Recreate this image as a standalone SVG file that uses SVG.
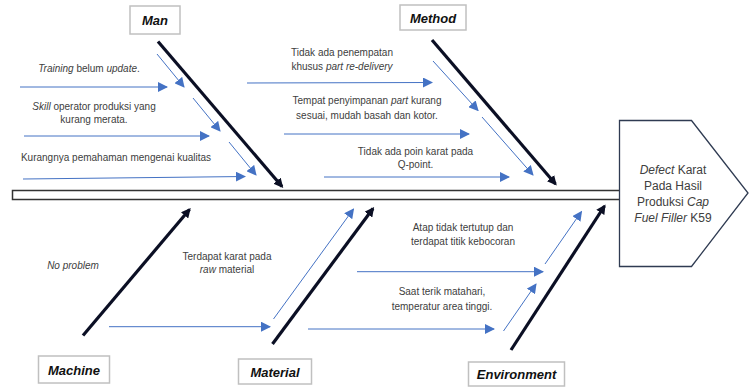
<svg xmlns="http://www.w3.org/2000/svg" width="749" height="387" viewBox="0 0 749 387">
<defs>
<style>
.box{fill:#fff;stroke:#c0c0c0;stroke-width:1.5}
.cat{font-family:"Liberation Sans",Arial,sans-serif;font-size:13px;font-weight:bold;font-style:italic;fill:#111;text-anchor:middle}
.t{font-family:"Liberation Sans",Arial,sans-serif;font-size:10px;fill:#404040;text-anchor:middle}
.h{font-size:12px}
.i{font-style:italic}
.bone{stroke:#0b0f24;stroke-width:3.2;fill:none;marker-end:url(#ab)}
.sub{stroke:#4472c4;stroke-width:1;fill:none;marker-end:url(#au)}
</style>
<marker id="au" viewBox="0 0 10 10" refX="9" refY="5" markerWidth="10" markerHeight="10" markerUnits="userSpaceOnUse" orient="auto">
<path d="M0,0 L10,5 L0,10 Z" fill="#4472c4"/>
</marker>
<marker id="ab" viewBox="0 0 10 10" refX="8" refY="5" markerWidth="3" markerHeight="3" orient="auto">
<path d="M0,0 L10,5 L0,10 Z" fill="#0b0f24"/>
</marker>
</defs>
<rect width="749" height="387" fill="#fff"/>

<g id="spine">
<rect x="12.5" y="190.5" width="608" height="9" fill="#fff" stroke="#333" stroke-width="1.5"/>
</g>

<g id="head">
<path d="M619.5,120.5 L691.5,120.5 L748,193 L691.5,266.5 L619.5,266.5 Z" fill="#fff" stroke="#2f3b52" stroke-width="1.3"/>
<text class="t h" x="673" y="174"><tspan class="i">Defect</tspan> Karat</text>
<text class="t h" x="673" y="190">Pada Hasil</text>
<text class="t h" x="673" y="206">Produksi <tspan class="i">Cap</tspan></text>
<text class="t h" x="673" y="222"><tspan class="i">Fuel Filler</tspan> K59</text>
</g>

<g id="man">
<rect class="box" x="130" y="6" width="50" height="28"/>
<text class="cat" x="155" y="25">Man</text>
</g>
<g id="method">
<rect class="box" x="400" y="5" width="66" height="25"/>
<text class="cat" x="433" y="22.5">Method</text>
</g>
<g id="machine">
<rect class="box" x="38.5" y="356" width="71" height="27"/>
<text class="cat" x="74" y="374.5">Machine</text>
</g>
<g id="material">
<rect class="box" x="238.5" y="359" width="73" height="25"/>
<text class="cat" x="275" y="376.5">Material</text>
</g>
<g id="environment">
<rect class="box" x="468.5" y="362" width="96" height="24"/>
<text class="cat" x="516.5" y="378.5">Environment</text>
</g>

<g id="cause-man-1"><text class="t" x="89" y="72"><tspan class="i">Training</tspan> belum <tspan class="i">update</tspan>.</text></g>
<g id="cause-man-2">
<text class="t" x="94" y="109.5"><tspan class="i">Skill</tspan> operator produksi yang</text>
<text class="t" x="94" y="123">kurang merata.</text>
</g>
<g id="cause-man-3"><text class="t" x="116" y="160.5">Kurangnya pemahaman mengenai kualitas</text></g>

<g id="cause-method-1">
<text class="t" x="342" y="56">Tidak ada penempatan</text>
<text class="t" x="342" y="70">khusus <tspan class="i">part re-delivery</tspan></text>
</g>
<g id="cause-method-2">
<text class="t" x="367" y="103.5">Tempat penyimpanan <tspan class="i">part</tspan> kurang</text>
<text class="t" x="367" y="118.5">sesuai, mudah basah dan kotor.</text>
</g>
<g id="cause-method-3">
<text class="t" x="415.5" y="154.5">Tidak ada poin karat pada</text>
<text class="t" x="415.5" y="167.5">Q-point.</text>
</g>

<g id="cause-machine-1"><text class="t i" x="73" y="268.5">No problem</text></g>
<g id="cause-material-1">
<text class="t" x="227" y="259.5">Terdapat karat pada</text>
<text class="t" x="227" y="272.5"><tspan class="i">raw</tspan> material</text>
</g>
<g id="cause-env-1">
<text class="t" x="463" y="231">Atap tidak tertutup dan</text>
<text class="t" x="463" y="245">terdapat titik kebocoran</text>
</g>
<g id="cause-env-2">
<text class="t" x="442" y="294.5">Saat terik matahari,</text>
<text class="t" x="442" y="309.5">temperatur area tinggi.</text>
</g>

<g id="connectors">
<line class="bone" x1="158" y1="41.5" x2="282" y2="186.5"/>
<line class="bone" x1="432" y1="40" x2="555.5" y2="184"/>
<line class="bone" x1="83" y1="335.5" x2="189.5" y2="209.5"/>
<line class="bone" x1="272.5" y1="344" x2="373" y2="208.5"/>
<line class="bone" x1="511" y1="350" x2="604.5" y2="206"/>

<line class="sub" x1="157" y1="54" x2="184" y2="87"/>
<line class="sub" x1="193" y1="98" x2="220" y2="131"/>
<line class="sub" x1="229" y1="142" x2="256" y2="175"/>
<line class="sub" x1="20" y1="87" x2="167" y2="87"/>
<line class="sub" x1="24" y1="136" x2="209" y2="136"/>
<line class="sub" x1="23" y1="179" x2="245" y2="176.5"/>

<line class="sub" x1="433" y1="61" x2="478" y2="110.5"/>
<line class="sub" x1="482" y1="117" x2="533" y2="175"/>
<line class="sub" x1="247" y1="83" x2="432" y2="82.5"/>
<line class="sub" x1="284" y1="134" x2="469" y2="134"/>
<line class="sub" x1="324" y1="177" x2="509" y2="177"/>

<line class="sub" x1="109" y1="326.7" x2="270" y2="326.7"/>
<line class="sub" x1="273.5" y1="319" x2="353.5" y2="209"/>

<line class="sub" x1="503.5" y1="331" x2="536" y2="284"/>
<line class="sub" x1="545" y1="264" x2="581.5" y2="211.5"/>
<line class="sub" x1="357" y1="271.7" x2="543" y2="271.7"/>
<line class="sub" x1="308" y1="329" x2="494" y2="329"/>
</g>
</svg>
